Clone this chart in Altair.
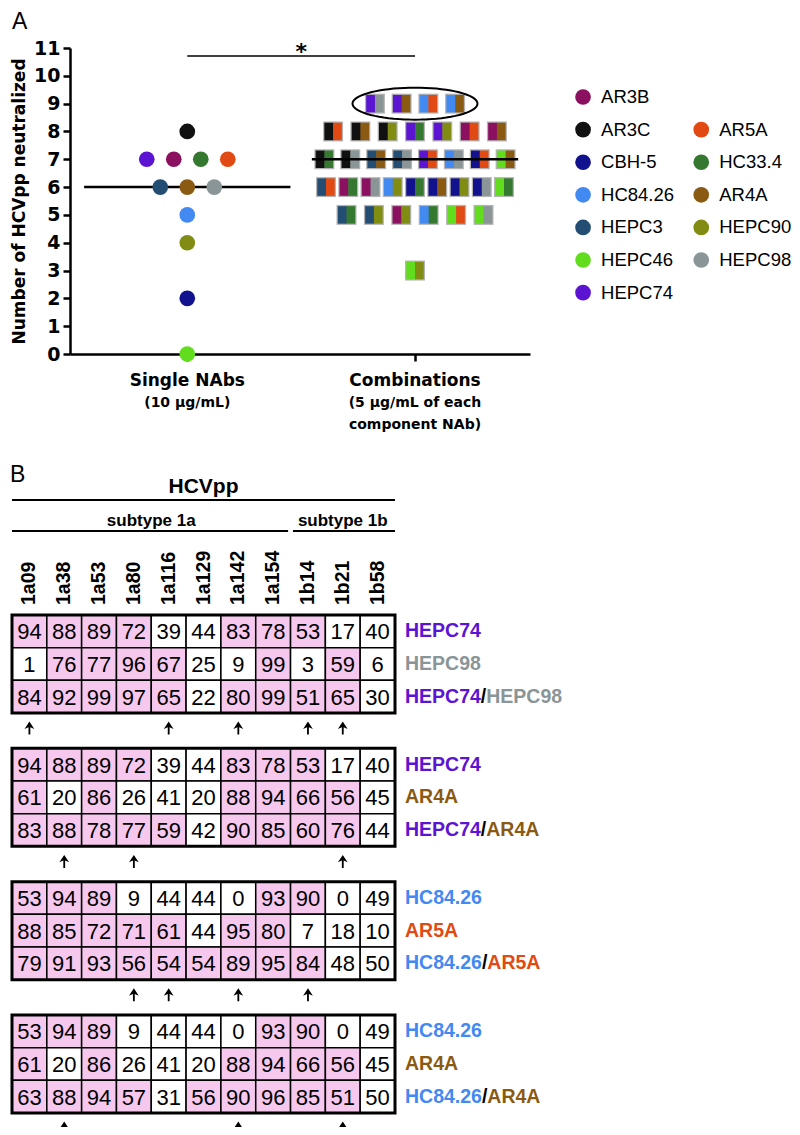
import math
import numpy as np
import pandas as pd
import altair as alt

# ---------------------------------------------------------------- data
NABS = ["AR3B", "AR3C", "CBH-5", "HC84.26", "HEPC3", "HEPC46", "HEPC74",
        "AR5A", "HC33.4", "AR4A", "HEPC90", "HEPC98"]
NAB_COLORS = ["#8c1060", "#111111", "#12128e", "#4289f2", "#234d72", "#62dd1e",
              "#5b14d2", "#e14a12", "#34792f", "#8b5a12", "#818d12", "#8a9597"]
LEGEND_COL = [0, 0, 0, 0, 0, 0, 0, 1, 1, 1, 1, 1]
LEGEND_ROW = [0, 1, 2, 3, 4, 5, 6, 1, 2, 3, 4, 5]

# single NAbs, in their left-to-right order inside each row
SINGLE_ORDER = ["AR3C", "HEPC74", "AR3B", "HC33.4", "AR5A", "HEPC3", "AR4A",
                "HEPC98", "HC84.26", "HEPC90", "CBH-5", "HEPC46"]
SINGLE_VALUES = [8, 7, 7, 7, 7, 6, 6, 6, 5, 4, 2, 0]

# combinations (left colour / right colour), in left-to-right order inside each row
COMBO_FIRST = ["HEPC74", "HEPC74", "HC84.26", "HC84.26",
               "AR3C", "AR3C", "AR3C", "HEPC74", "HEPC74", "AR3B", "AR3B",
               "AR3C", "AR3C", "HEPC3", "HEPC3", "HEPC74", "HC84.26", "CBH-5", "HEPC46",
               "HEPC3", "AR3B", "AR3B", "HC84.26", "CBH-5", "CBH-5", "CBH-5", "CBH-5", "HEPC46",
               "HEPC3", "HEPC3", "AR3B", "HC84.26", "HEPC46", "HEPC46",
               "HEPC46"]
COMBO_SECOND = ["HEPC98", "AR4A", "AR5A", "AR4A",
                "AR5A", "AR4A", "HEPC90", "HC33.4", "HEPC90", "AR5A", "AR4A",
                "HC33.4", "HEPC98", "AR4A", "HEPC98", "AR5A", "HEPC98", "AR5A", "AR4A",
                "AR5A", "HC33.4", "HEPC98", "HEPC90", "HC33.4", "AR4A", "HEPC90", "HEPC98", "HC33.4",
                "HC33.4", "HEPC90", "HEPC90", "HC33.4", "AR5A", "HEPC98",
                "HEPC90"]
COMBO_VALUES = [9, 9, 9, 9,
                8, 8, 8, 8, 8, 8, 8,
                7, 7, 7, 7, 7, 7, 7, 7,
                6, 6, 6, 6, 6, 6, 6, 6, 6,
                5, 5, 5, 5, 5, 5,
                3]
HIGHLIGHT_VALUE = 9          # row of combinations circled in panel A

CATEGORY_LINES = [["Single NAbs", "(10 µg/mL)"],
                  ["Combinations", "(5 µg/mL of each", "component NAb)"]]
SIG_PAIR = [1, 2]
SIG_LABEL = "*"
Y_TICKS = list(range(0, 12))
Y_TITLE = "Number of HCVpp neutralized"

# panel B
STRAINS = ["1a09", "1a38", "1a53", "1a80", "1a116", "1a129", "1a142", "1a154",
           "1b14", "1b21", "1b58"]
SUBTYPES = ["subtype 1a", "subtype 1b"]
SUBTYPE_SPANS = [(0, 8), (8, 11)]
HEADER = "HCVpp"

VALS = {
    "HEPC74": [94, 88, 89, 72, 39, 44, 83, 78, 53, 17, 40],
    "HEPC98": [1, 76, 77, 96, 67, 25, 9, 99, 3, 59, 6],
    "AR4A": [61, 20, 86, 26, 41, 20, 88, 94, 66, 56, 45],
    "HC84.26": [53, 94, 89, 9, 44, 44, 0, 93, 90, 0, 49],
    "AR5A": [88, 85, 72, 71, 61, 44, 95, 80, 7, 18, 10],
}
TABLE_PAIRS = [("HEPC74", "HEPC98"), ("HEPC74", "AR4A"),
               ("HC84.26", "AR5A"), ("HC84.26", "AR4A")]
TABLE_COMBO_VALS = [
    [84, 92, 99, 97, 65, 22, 80, 99, 51, 65, 30],
    [83, 88, 78, 77, 59, 42, 90, 85, 60, 76, 44],
    [79, 91, 93, 56, 54, 54, 89, 95, 84, 48, 50],
    [63, 88, 94, 57, 31, 56, 90, 96, 85, 51, 50],
]
TABLE_ARROWS = [["1a09", "1a116", "1a142", "1b14", "1b21"],
                ["1a38", "1a80", "1b21"],
                ["1a80", "1a116", "1a142", "1b14"],
                ["1a38", "1a142", "1b21"]]
NEUTRALIZED_THRESHOLD = 50

# ---------------------------------------------------------------- style
FONT = "Liberation Sans"
FONT_A = "DejaVu Sans"
PINK = "#f6c8ee"
SQUARE_EDGE = "#b4b4b4"
SINGLE_DX = 0.1186
COMBO_DX = {9: 0.1173, 8: 0.1199, 7: 0.1137, 6: 0.0977, 5: 0.1203, 3: 0.12}
MED_HALF = 0.453
SIG_Y = 10.71
LEG_X0, LEG_DXCOL, LEG_Y0, LEG_DYROW = 2.738, 0.519, 9.238, 1.172
LEG_FS = 18.5
CAT_Y0, CAT_DY = -1.15, 0.77
BLOCK = 4.08
ARROW_GAP = 0.46
ROWLAB_FS = 19.5
ROWLAB_X = 11.287
PX_PER_BX = 383 / 11
TAG_FS = 23

# Liberation Sans Bold advance widths (Arial metrics), per 1000 em
BOLD_W = {"H": 722, "E": 667, "P": 667, "C": 722, "A": 722, "R": 722, "B": 722,
          ".": 278, "/": 278, "-": 333}


def bold_width(s, fs):
    return sum(BOLD_W.get(ch, 556) for ch in s) / 1000 * fs


color_of = dict(zip(NABS, NAB_COLORS))

# ---------------------------------------------------------------- shapes
LEFT_HALF = "M-1,-1L0.06,-1L0.06,1L-1,1Z"
RIGHT_HALF = "M0,-1L1,-1L1,1L0,1Z"
ell = [(math.cos(2 * math.pi * k / 72), 0.256 * math.sin(2 * math.pi * k / 72)) for k in range(72)]
ELLIPSE = "M" + "L".join(f"{x:.4f},{y:.4f}" for x, y in ell) + "Z"
ARROW = "M0,-1L0.75,0.15L0.14,-0.12L0.14,1L-0.14,1L-0.14,-0.12L-0.75,0.15Z"

# ================================================================ panel A
XA = alt.Scale(domain=[0.485, 2.505], range=[62, 522], nice=False, zero=False)
YA = alt.Scale(domain=[0, 11], range=[346, 40], nice=False, zero=False)
xa_axis = alt.Axis(values=SIG_PAIR, labels=False, title=None, grid=False, orient="bottom",
                   offset=-773, domainColor="black", domainWidth=2.5, tickColor="black",
                   tickWidth=2.5, tickSize=7)
ya_axis = alt.Axis(values=Y_TICKS, title=Y_TITLE, orient="left", offset=-62, grid=False,
                   domainColor="black", domainWidth=2.5, tickColor="black", tickWidth=2.5,
                   tickSize=7, labelFont=FONT_A, labelFontWeight="bold", labelFontSize=19,
                   labelColor="black", labelPadding=3, titleFont=FONT_A,
                   titleFontWeight="bold", titleFontSize=17, titleColor="black",
                   titlePadding=5)
xa = alt.X("ax:Q", scale=XA, axis=xa_axis)
ya = alt.Y("ay:Q", scale=YA, axis=ya_axis)

single = pd.DataFrame({"nab": SINGLE_ORDER, "ay": SINGLE_VALUES})
single["slot"] = single.groupby("ay").cumcount()
single["n"] = single.groupby("ay")["ay"].transform("size")
single["ax"] = 1 + (single["slot"] - (single["n"] - 1) / 2) * SINGLE_DX
single["color"] = single["nab"].map(color_of)

combo = pd.DataFrame({"a": COMBO_FIRST, "b": COMBO_SECOND, "ay": COMBO_VALUES})
combo["slot"] = combo.groupby("ay").cumcount()
combo["n"] = combo.groupby("ay")["ay"].transform("size")
combo["ax"] = 2 + (combo["slot"] - (combo["n"] - 1) / 2) * combo["ay"].map(COMBO_DX)
combo["ca"] = combo["a"].map(color_of)
combo["cb"] = combo["b"].map(color_of)

med = pd.DataFrame({"grp": [1, 2],
                    "ay": [float(np.median(SINGLE_VALUES)), float(np.median(COMBO_VALUES))]})
med["ax"] = med["grp"] - MED_HALF
med["ax2"] = med["grp"] + MED_HALF

sig = pd.DataFrame({"ax": [SIG_PAIR[0]], "ax2": [SIG_PAIR[1]], "ay": [SIG_Y],
                    "mid": [(SIG_PAIR[0] + SIG_PAIR[1]) / 2], "t": [SIG_LABEL]})
ellipse_df = pd.DataFrame({"ax": [2], "ay": [HIGHLIGHT_VALUE]})

cat_rows = []
for gi, lines in enumerate(CATEGORY_LINES):
    for li, txt in enumerate(lines):
        cat_rows.append({"ax": gi + 1, "ay": CAT_Y0 - CAT_DY * li, "t": txt,
                         "fs": 17 if li == 0 else 14})
cat = pd.DataFrame(cat_rows)

leg = pd.DataFrame({"nab": NABS, "col": LEGEND_COL, "row": LEGEND_ROW})
leg["ax"] = LEG_X0 + leg["col"] * LEG_DXCOL
leg["ay"] = LEG_Y0 - leg["row"] * LEG_DYROW
leg["color"] = leg["nab"].map(color_of)

tagA = pd.DataFrame({"ax": [0.23], "ay": [11.68], "t": ["A"]})

A_layers = [
    alt.Chart(med[med.grp == 1]).mark_rule(color="black", strokeWidth=2.5).encode(
        x=xa, x2="ax2:Q", y=ya),
    alt.Chart(single).mark_circle(size=246, opacity=1).encode(
        x=xa, y=ya, color=alt.Color("color:N", scale=None)),
    alt.Chart(combo).mark_point(shape="square", size=400, filled=True, opacity=1,
                                color=SQUARE_EDGE, strokeWidth=0).encode(x=xa, y=ya),
    alt.Chart(combo).mark_point(shape=LEFT_HALF, size=306, filled=True, opacity=1,
                                strokeWidth=0).encode(
        x=xa, y=ya, color=alt.Color("ca:N", scale=None)),
    alt.Chart(combo).mark_point(shape=RIGHT_HALF, size=306, filled=True, opacity=1,
                                strokeWidth=0).encode(
        x=xa, y=ya, color=alt.Color("cb:N", scale=None)),
    alt.Chart(med[med.grp == 2]).mark_rule(color="black", strokeWidth=2.5).encode(
        x=xa, x2="ax2:Q", y=ya),
    alt.Chart(ellipse_df).mark_point(shape=ELLIPSE, size=15625, filled=False,
                                     color="black", strokeWidth=2, opacity=1).encode(x=xa, y=ya),
    alt.Chart(sig).mark_rule(color="black", strokeWidth=1.6).encode(x=xa, x2="ax2:Q", y=ya),
    alt.Chart(sig).mark_text(font=FONT_A, fontWeight="bold", fontSize=22, align="center",
                             baseline="alphabetic", dy=3, color="black").encode(
        x=alt.X("mid:Q", scale=XA, axis=xa_axis), y=ya, text="t:N"),
    alt.Chart(cat).mark_text(font=FONT_A, fontWeight="bold", align="center",
                             baseline="alphabetic", color="black").encode(
        x=xa, y=ya, text="t:N", size=alt.Size("fs:Q", scale=None)),
    alt.Chart(leg).mark_circle(size=246, opacity=1).encode(
        x=xa, y=ya, color=alt.Color("color:N", scale=None)),
    alt.Chart(leg).mark_text(font=FONT, fontSize=LEG_FS, align="left", baseline="middle",
                             dx=18, color="black").encode(x=xa, y=ya, text="nab:N"),
    alt.Chart(tagA).mark_text(font=FONT, fontSize=TAG_FS, align="left", baseline="alphabetic",
                              color="black").encode(x=xa, y=ya, text="t:N"),
]
panelA = alt.layer(*A_layers)

# ================================================================ panel B
XB = alt.Scale(domain=[0, 11], range=[4, 387], nice=False, zero=False)
YB = alt.Scale(domain=[0, 15.24], range=[607, 1105], nice=False, zero=False)
bx = alt.X("bx:Q", scale=XB, axis=None)
by = alt.Y("by:Q", scale=YB, axis=None)

cells, borders, labels, arrows = [], [], [], []
for t, (a, b) in enumerate(TABLE_PAIRS):
    top = t * BLOCK
    rows = [VALS[a], VALS[b], TABLE_COMBO_VALS[t]]
    for r, vals in enumerate(rows):
        for c, v in enumerate(vals):
            cells.append({"bx": c, "bx2": c + 1, "by": top + r, "by2": top + r + 1,
                          "fill": PINK if v > NEUTRALIZED_THRESHOLD else "white",
                          "v": str(v), "tx": c + 0.5, "ty": top + r + 0.5})
    borders.append({"bx": 0, "bx2": len(STRAINS), "by": top, "by2": top + 3})
    labels.append({"bx": ROWLAB_X, "by": top + 0.5, "t": a, "color": color_of[a]})
    labels.append({"bx": ROWLAB_X, "by": top + 1.5, "t": b, "color": color_of[b]})
    # combination label: "A" + "/" + "B", each piece in its own colour
    wa = bold_width(a, ROWLAB_FS) / PX_PER_BX
    ws = bold_width("/", ROWLAB_FS) / PX_PER_BX
    labels.append({"bx": ROWLAB_X, "by": top + 2.5, "t": a, "color": color_of[a]})
    labels.append({"bx": ROWLAB_X + wa, "by": top + 2.5, "t": "/", "color": "#000000"})
    labels.append({"bx": ROWLAB_X + wa + ws, "by": top + 2.5, "t": b, "color": color_of[b]})
    for s in TABLE_ARROWS[t]:
        arrows.append({"bx": STRAINS.index(s) + 0.5, "by": top + 3 + ARROW_GAP})

cells = pd.DataFrame(cells)
borders = pd.DataFrame(borders)
labels = pd.DataFrame(labels)
arrows = pd.DataFrame(arrows)

colhead = pd.DataFrame({"bx": [i + 0.5 for i in range(len(STRAINS))],
                        "by": [-0.306] * len(STRAINS), "t": STRAINS})
head_text = pd.DataFrame({
    "bx": [len(STRAINS) / 2] + [(s0 + s1) / 2 for s0, s1 in SUBTYPE_SPANS],
    "by": [-3.733, -2.72, -2.72],
    "t": [HEADER] + SUBTYPES,
    "fs": [21, 17, 17]})
head_lines = pd.DataFrame({
    "bx": [0] + [s0 + (0.07 if s0 > 0 else 0) for s0, s1 in SUBTYPE_SPANS],
    "bx2": [len(STRAINS)] + [s1 - (0.07 if s1 < len(STRAINS) else 0) for s0, s1 in SUBTYPE_SPANS],
    "by": [-3.52, -2.57, -2.57]})
tagB = pd.DataFrame({"bx": [-0.057], "by": [-4.07], "t": ["B"]})

B_layers = [
    alt.Chart(cells).mark_rect(stroke="black", strokeWidth=1.5).encode(
        x=bx, x2="bx2:Q", y=by, y2="by2:Q", fill=alt.Fill("fill:N", scale=None)),
    alt.Chart(borders).mark_rect(fill="white", fillOpacity=0, stroke="black",
                                 strokeWidth=3).encode(x=bx, x2="bx2:Q", y=by, y2="by2:Q"),
    alt.Chart(cells).mark_text(font=FONT, fontSize=22, align="center", baseline="middle",
                               dy=1, color="black").encode(
        x=alt.X("tx:Q", scale=XB, axis=None), y=alt.Y("ty:Q", scale=YB, axis=None), text="v:N"),
    alt.Chart(labels).mark_text(font=FONT, fontWeight="bold", fontSize=ROWLAB_FS, align="left",
                                baseline="middle").encode(
        x=bx, y=by, text="t:N", color=alt.Color("color:N", scale=None)),
    alt.Chart(arrows).mark_point(shape=ARROW, size=169, filled=True, opacity=1,
                                 color="black", strokeWidth=0).encode(x=bx, y=by),
    alt.Chart(colhead).mark_text(font=FONT, fontWeight="bold", fontSize=19.5, angle=270,
                                 align="left", baseline="middle", color="black").encode(
        x=bx, y=by, text="t:N"),
    alt.Chart(head_text).mark_text(font=FONT, fontWeight="bold", align="center",
                                   baseline="alphabetic", color="black").encode(
        x=bx, y=by, text="t:N", size=alt.Size("fs:Q", scale=None)),
    alt.Chart(head_lines).mark_rule(color="black", strokeWidth=2).encode(x=bx, x2="bx2:Q", y=by),
    alt.Chart(tagB).mark_text(font=FONT, fontSize=TAG_FS, align="left", baseline="alphabetic",
                              color="black").encode(x=bx, y=by, text="t:N"),
]
panelB = alt.layer(*B_layers)

chart = (
    alt.layer(panelA, panelB)
    .resolve_scale(x="independent", y="independent")
    .resolve_axis(x="independent", y="independent")
    .properties(width=784, height=1119, padding=0,
                autosize=alt.AutoSizeParams(type="none"))
    .configure_view(stroke=None)
)

chart.save("out.html", embed_options={"renderer": "svg", "actions": False})
